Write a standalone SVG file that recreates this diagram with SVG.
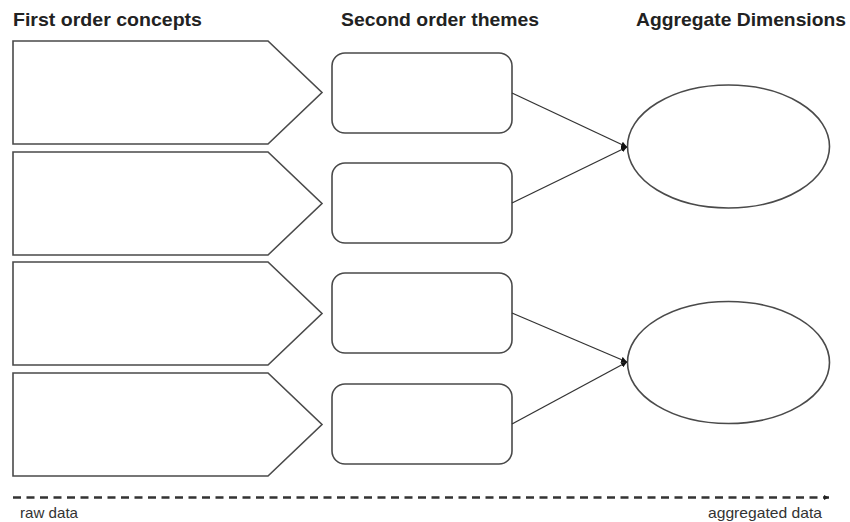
<svg xmlns="http://www.w3.org/2000/svg" width="850" height="522" viewBox="0 0 850 522">
  <defs>
    <marker id="tip" viewBox="0 0 10 10" refX="10" refY="5" markerWidth="6" markerHeight="6" markerUnits="userSpaceOnUse" orient="auto">
      <path d="M0,0 L10,5 L0,10 z" fill="#111"/>
    </marker>
    <marker id="tip-flow" viewBox="0 0 10 10" refX="10" refY="5" markerWidth="5" markerHeight="5" markerUnits="userSpaceOnUse" orient="auto">
      <path d="M0,0 L10,5 L0,10 z" fill="#222"/>
    </marker>
  </defs>
  <style>
    .head { font-family: "Liberation Sans", Arial, sans-serif; font-weight: bold; font-size: 19px; fill: #222; }
    .foot { font-family: "Liberation Sans", Arial, sans-serif; font-size: 14.5px; fill: #333; }
    .concept { fill: #fff; stroke: #4a4a4a; stroke-width: 1.6; stroke-linejoin: miter; }
    .theme { fill: #fff; stroke: #4a4a4a; stroke-width: 1.6; }
    .dim { fill: #fff; stroke: #4a4a4a; stroke-width: 1.6; }
    .link { stroke: #333; stroke-width: 1.3; fill: none; marker-end: url(#tip); }
    .flow { stroke: #333; stroke-width: 2.4; stroke-dasharray: 8 5.5; fill: none; marker-end: url(#tip-flow); }
  </style>

  <rect width="850" height="522" fill="#fff"/>

  <!-- column headings -->
  <g id="headings">
    <text class="head" x="13" y="26" textLength="189" lengthAdjust="spacingAndGlyphs">First order concepts</text>
    <text class="head" x="341" y="26" textLength="198" lengthAdjust="spacingAndGlyphs">Second order themes</text>
    <text class="head" x="636" y="26" textLength="210" lengthAdjust="spacingAndGlyphs">Aggregate Dimensions</text>
  </g>

  <!-- first order concepts (pentagon arrows) -->
  <g id="concept-1"><polygon class="concept" points="13,41 268,41 322,92.5 268,144 13,144"/></g>
  <g id="concept-2"><polygon class="concept" points="13,152 268,152 322,203.5 268,255 13,255"/></g>
  <g id="concept-3"><polygon class="concept" points="13,262 268,262 322,313.5 268,365 13,365"/></g>
  <g id="concept-4"><polygon class="concept" points="13,373 268,373 322,424.5 268,476 13,476"/></g>

  <!-- second order themes -->
  <g id="theme-1"><rect class="theme" x="332" y="53" width="180" height="80" rx="13"/></g>
  <g id="theme-2"><rect class="theme" x="332" y="163" width="180" height="80" rx="13"/></g>
  <g id="theme-3"><rect class="theme" x="332" y="273" width="180" height="80" rx="13"/></g>
  <g id="theme-4"><rect class="theme" x="332" y="384" width="180" height="80" rx="13"/></g>

  <!-- aggregate dimensions -->
  <g id="dimension-1"><ellipse class="dim" cx="728.5" cy="146.5" rx="101" ry="61.5"/></g>
  <g id="dimension-2"><ellipse class="dim" cx="728.5" cy="362.5" rx="101" ry="61"/></g>

  <!-- connectors -->
  <g id="connectors">
    <line class="link" x1="512" y1="93" x2="627" y2="147"/>
    <line class="link" x1="512" y1="203" x2="627" y2="147"/>
    <line class="link" x1="512" y1="313" x2="627" y2="362"/>
    <line class="link" x1="512" y1="424" x2="627" y2="362"/>
  </g>

  <!-- data flow axis -->
  <g id="flow-axis">
    <line class="flow" x1="13" y1="497.5" x2="829" y2="497.5"/>
    <text class="foot" x="20" y="518" textLength="58" lengthAdjust="spacingAndGlyphs">raw data</text>
    <text class="foot" x="708" y="518" textLength="114" lengthAdjust="spacingAndGlyphs">aggregated data</text>
  </g>
</svg>
